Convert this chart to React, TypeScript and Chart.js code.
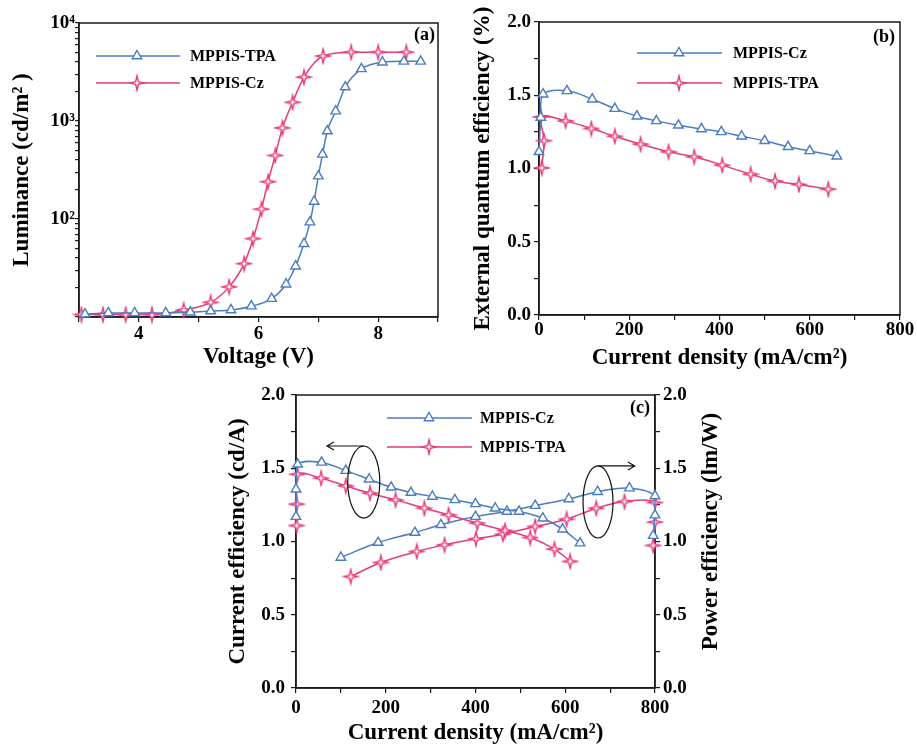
import React, { useEffect, useRef } from 'react';
import { Chart, registerables } from 'chart.js';

Chart.register(...registerables);

const BLUE = '#4a7cc3';
const PINK = '#e8397a';
const AXIS = '#1a1a1a';
const FONT = "'Liberation Serif', 'Times New Roman', Times, serif";

// ---------- Panel (a): Luminance vs Voltage ----------
const aVoltTPA = [3.10, 3.49, 3.93, 4.45, 4.86, 5.20, 5.54, 5.88, 6.22, 6.46, 6.62, 6.76, 6.86, 6.93, 7.00, 7.07, 7.15, 7.29, 7.45, 7.72, 8.07, 8.43, 8.71];
const aLumTPA = [10.7, 11, 11, 11, 11.2, 11.5, 11.8, 12.9, 15.4, 21.6, 33, 56, 93, 151, 274, 457, 790, 1260, 2220, 3400, 3980, 4060, 4060];
const aVoltCz = [3.04, 3.40, 3.78, 4.22, 4.75, 5.20, 5.51, 5.76, 5.91, 6.05, 6.16, 6.28, 6.40, 6.57, 6.76, 7.08, 7.55, 8.00, 8.47];
const aLumCz = [10.6, 10.6, 10.6, 10.6, 11.8, 14.1, 20.3, 35, 63, 126, 240, 445, 850, 1550, 2800, 4600, 5030, 5030, 5030];
const aVoltTicks = [3, 4, 5, 6, 7, 8, 9];
const aVoltLabels = [4, 6, 8];
const aLumDecades = [10, 100, 1000];
const aLumLabelled = [100, 1000, 10000];

// ---------- Panel (b): EQE vs current density ----------
const bJCz = [0, 4, 9, 62, 118, 168, 217, 260, 309, 360, 404, 449, 500, 552, 600, 660];
const bEqeCz = [1.114, 1.348, 1.507, 1.53, 1.473, 1.409, 1.357, 1.325, 1.295, 1.27, 1.25, 1.22, 1.189, 1.148, 1.12, 1.084];
const bJTPA = [6, 11, 4, 59, 116, 168, 225, 287, 344, 406, 469, 523, 576, 641];
const bEqeTPA = [1.004, 1.19, 1.352, 1.325, 1.273, 1.22, 1.166, 1.114, 1.08, 1.023, 0.961, 0.914, 0.891, 0.859];

// ---------- Panel (c): CE & PE vs current density ----------
const cJCeCz = [0, 0, 3.7, 57, 111, 163, 212, 256, 304, 354, 400, 444, 497, 550, 594, 633];
const cCeCz = [1.17, 1.357, 1.527, 1.54, 1.484, 1.425, 1.37, 1.334, 1.307, 1.284, 1.257, 1.227, 1.205, 1.159, 1.084, 0.989];
const cJPeCz = [100, 183, 265, 323, 400, 470, 533, 608, 672, 743, 800, 800, 796];
const cPeCz = [0.891, 0.993, 1.061, 1.114, 1.17, 1.205, 1.245, 1.29, 1.34, 1.364, 1.311, 1.18, 1.04];
const cJCeTPA = [1.5, 1.5, 3, 56, 111, 165, 222, 286, 340, 404, 466, 522, 576, 611];
const cCeTPA = [1.109, 1.255, 1.459, 1.432, 1.38, 1.33, 1.284, 1.227, 1.182, 1.125, 1.075, 1.027, 0.948, 0.864];
const cJPeTPA = [122, 189, 269, 331, 401, 461, 533, 603, 669, 732, 800, 800, 796];
const cPeTPA = [0.761, 0.857, 0.932, 0.977, 1.018, 1.05, 1.102, 1.152, 1.227, 1.273, 1.266, 1.132, 0.973];

// shared tick lists
const jTicks = [0, 100, 200, 300, 400, 500, 600, 700, 800];
const jLabels = [0, 200, 400, 600, 800];
const effTicks = [0, 0.25, 0.5, 0.75, 1, 1.25, 1.5, 1.75, 2];
const effLabels = [0, 0.5, 1, 1.5, 2];

// annotation ellipses (data units) for panel (c)
const cEllipseX = [151, 673];
const cEllipseY = [1.406, 1.27];
const cEllipseRx = [35.7, 33.4];
const cEllipseRy = [0.246, 0.246];
const cArrowTo = [69, 755];

function drawStar(ctx: CanvasRenderingContext2D, cx: number, cy: number, r: number, color: string) {
  const inner = r * 0.28;
  ctx.beginPath();
  for (let i = 0; i < 8; i++) {
    const ang = -Math.PI / 2 + (i * Math.PI) / 4;
    const rad = i % 2 === 0 ? r : inner;
    const px = cx + rad * Math.cos(ang);
    const py = cy + rad * Math.sin(ang);
    if (i === 0) ctx.moveTo(px, py);
    else ctx.lineTo(px, py);
  }
  ctx.closePath();
  ctx.fillStyle = '#fff';
  ctx.fill();
  ctx.lineWidth = 1.4;
  ctx.strokeStyle = color;
  ctx.stroke();
}

function drawTri(ctx: CanvasRenderingContext2D, cx: number, cy: number, r: number, color: string) {
  ctx.beginPath();
  for (let i = 0; i < 3; i++) {
    const a = (i * 2 * Math.PI) / 3;
    const px = cx + Math.sin(a) * r;
    const py = cy - Math.cos(a) * r;
    if (i === 0) ctx.moveTo(px, py);
    else ctx.lineTo(px, py);
  }
  ctx.closePath();
  ctx.fillStyle = '#fff';
  ctx.fill();
  ctx.lineWidth = 1.4;
  ctx.strokeStyle = color;
  ctx.stroke();
}

const starCache: Record<string, HTMLCanvasElement> = {};
function starImage(color: string, r = 7): HTMLCanvasElement {
  const key = color + r;
  if (starCache[key]) return starCache[key];
  const s = Math.ceil(2 * r + 4);
  const c = document.createElement('canvas');
  c.width = s;
  c.height = s;
  const ctx = c.getContext('2d')!;
  drawStar(ctx, s / 2, s / 2, r, color);
  starCache[key] = c;
  return c;
}

const pts = (xs: number[], ys: number[]) => xs.map((x, i) => ({ x, y: ys[i] }));

function series(label: string, data: any[], color: string, marker: 'tri' | 'star', extra: any = {}) {
  return {
    label,
    data,
    showLine: true,
    borderColor: color,
    borderWidth: 1.5,
    backgroundColor: '#fff',
    pointStyle: marker === 'tri' ? 'triangle' : starImage(color),
    pointRadius: marker === 'tri' ? 5.5 : 7,
    pointBorderWidth: 1.4,
    pointBackgroundColor: '#fff',
    pointBorderColor: color,
    clip: false,
    tension: 0.35,
    ...extra,
  };
}

const tickFont = { family: FONT, size: 19, weight: 'bold' as const, lineHeight: 1 };
const titleFont = { family: FONT, size: 23, weight: 'bold' as const, lineHeight: 1 };

const has = (arr: number[], v: number) => arr.some((a) => Math.abs(a - v) < 1e-6);

function linAxis(o: {
  min: number; max: number; ticks: number[]; labels: number[]; fmt: (v: number) => string;
  title?: string; titlePad?: number; size: number; horizontal: boolean; pad: number; position?: string;
}) {
  return {
    type: 'linear',
    position: o.position,
    min: o.min,
    max: o.max,
    afterBuildTicks: (s: any) => {
      s.ticks = o.ticks.map((v) => ({ value: v }));
    },
    afterFit: (s: any) => {
      if (o.horizontal) s.height = o.size;
      else s.width = o.size;
    },
    ticks: {
      autoSkip: false,
      maxRotation: 0,
      minRotation: 0,
      padding: o.pad,
      color: '#000',
      font: tickFont,
      callback: (v: number) => (has(o.labels, v) ? o.fmt(v) : ''),
    },
    grid: { drawOnChartArea: false, drawTicks: true, tickLength: 5, color: AXIS, lineWidth: 1.2 },
    border: { display: true, color: AXIS, width: 1.5 },
    title: o.title
      ? {
          display: true,
          text: o.title,
          color: '#000',
          font: titleFont,
          padding: o.horizontal ? { top: 0, bottom: o.titlePad } : { top: o.titlePad, bottom: 0 },
        }
      : { display: false },
  };
}

const framePlugin = {
  id: 'frame',
  beforeDatasetsDraw(chart: any) {
    const { ctx, chartArea } = chart;
    const { left, top, right, bottom } = chartArea;
    ctx.save();
    ctx.strokeStyle = AXIS;
    ctx.lineWidth = 1.5;
    ctx.strokeRect(left, top, right - left, bottom - top);
    ctx.restore();
  },
};

type KeyItem = { text: string; color: string; marker: 'tri' | 'star' };
function makeKey(
  items: KeyItem[],
  geo: { x1: number; x2: number; xm: number; xt: number; y0: number; dy: number },
  tag: { text: string; dx: number; dy: number }
) {
  return {
    id: 'key',
    afterDatasetsDraw(chart: any) {
      const { ctx, chartArea } = chart;
      ctx.save();
      items.forEach((it, i) => {
        const y = chartArea.top + geo.y0 + i * geo.dy;
        ctx.strokeStyle = it.color;
        ctx.lineWidth = 1.5;
        ctx.beginPath();
        ctx.moveTo(chartArea.left + geo.x1, y);
        ctx.lineTo(chartArea.left + geo.x2, y);
        ctx.stroke();
        if (it.marker === 'tri') drawTri(ctx, chartArea.left + geo.xm, y, 5.5, it.color);
        else drawStar(ctx, chartArea.left + geo.xm, y, 7, it.color);
        ctx.fillStyle = '#000';
        ctx.font = `bold 16px ${FONT}`;
        ctx.textBaseline = 'middle';
        ctx.textAlign = 'left';
        ctx.fillText(it.text, chartArea.left + geo.xt, y + 1);
      });
      ctx.fillStyle = '#000';
      ctx.font = `bold 18px ${FONT}`;
      ctx.textAlign = 'right';
      ctx.textBaseline = 'middle';
      ctx.fillText(tag.text, chartArea.right + tag.dx, chartArea.top + tag.dy);
      ctx.restore();
    },
  };
}

const annotPlugin = {
  id: 'annot',
  afterDatasetsDraw(chart: any) {
    const { ctx } = chart;
    const xs = chart.scales.x;
    const ys = chart.scales.y;
    ctx.save();
    ctx.strokeStyle = '#111';
    ctx.lineWidth = 1.2;
    cEllipseX.forEach((ex, i) => {
      const cx = xs.getPixelForValue(ex);
      const cy = ys.getPixelForValue(cEllipseY[i]);
      const rx = Math.abs(xs.getPixelForValue(ex + cEllipseRx[i]) - cx);
      const ry = Math.abs(ys.getPixelForValue(cEllipseY[i] + cEllipseRy[i]) - cy);
      ctx.beginPath();
      ctx.ellipse(cx, cy, rx, ry, 0, 0, Math.PI * 2);
      ctx.stroke();
      const ay = cy - ry;
      const tx = xs.getPixelForValue(cArrowTo[i]);
      ctx.beginPath();
      ctx.moveTo(cx, ay);
      ctx.lineTo(tx, ay);
      const dir = tx < cx ? 1 : -1;
      ctx.moveTo(tx + dir * 7, ay - 4);
      ctx.lineTo(tx, ay);
      ctx.lineTo(tx + dir * 7, ay + 4);
      ctx.stroke();
    });
    ctx.restore();
  },
};

const rightTitlePlugin = {
  id: 'rtitle',
  afterDraw(chart: any) {
    const { ctx, chartArea, width } = chart;
    ctx.save();
    ctx.translate(width - 29, (chartArea.top + chartArea.bottom) / 2 - 10);
    ctx.rotate(-Math.PI / 2);
    ctx.fillStyle = '#000';
    ctx.font = `bold 23px ${FONT}`;
    ctx.textAlign = 'center';
    ctx.textBaseline = 'middle';
    ctx.fillText('Power efficiency (lm/W)', 0, 0);
    ctx.restore();
  },
};

const SUP: Record<string, string> = { '0': '\u2070', '1': '\u00B9', '2': '\u00B2', '3': '\u00B3', '4': '\u2074' };

function buildA(): any {
  const logTicks: number[] = [];
  aLumDecades.forEach((d) => {
    for (let k = 1; k <= 9; k++) logTicks.push(d * k);
  });
  logTicks.push(10000);
  return {
    type: 'scatter',
    data: {
      datasets: [
        series('MPPIS-TPA', pts(aVoltTPA, aLumTPA), BLUE, 'tri', { tension: 0, cubicInterpolationMode: 'monotone' }),
        series('MPPIS-Cz', pts(aVoltCz, aLumCz), PINK, 'star', { tension: 0, cubicInterpolationMode: 'monotone' }),
      ],
    },
    options: {
      responsive: false,
      animation: false,
      devicePixelRatio: 1,
      layout: { padding: { left: 0, top: 23, right: 12, bottom: 0 } },
      plugins: { legend: { display: false }, tooltip: { enabled: false } },
      scales: {
        x: linAxis({
          min: 3, max: 9, ticks: aVoltTicks, labels: aVoltLabels, fmt: (v) => String(v),
          title: 'Voltage (V)', titlePad: 6.5, size: 58, horizontal: true, pad: 2.5,
        }),
        y: {
          type: 'logarithmic',
          min: 10,
          max: 10000,
          afterBuildTicks: (s: any) => {
            s.ticks = logTicks.map((v) => ({ value: v }));
          },
          afterFit: (s: any) => {
            s.width = 79;
          },
          ticks: {
            autoSkip: false,
            padding: 0,
            color: '#000',
            font: tickFont,
            callback: (v: number) => {
              if (!has(aLumLabelled, v)) return '';
              const e = Math.round(Math.log10(v));
              return '10' + SUP[String(e)];
            },
          },
          grid: { drawOnChartArea: false, drawTicks: true, tickLength: 4, color: AXIS, lineWidth: 1.2 },
          border: { display: true, color: AXIS, width: 1.5 },
          title: {
            display: true,
            text: 'Luminance (cd/m\u00B2 )',
            color: '#000',
            font: titleFont,
            padding: { top: 10.5, bottom: 0 },
          },
        },
      },
    },
    plugins: [
      framePlugin,
      makeKey(
        [
          { text: 'MPPIS-TPA', color: BLUE, marker: 'tri' },
          { text: 'MPPIS-Cz', color: PINK, marker: 'star' },
        ],
        { x1: 17, x2: 101, xm: 58, xt: 111, y0: 33, dy: 27 },
        { text: '(a)', dx: -3, dy: 12 }
      ),
    ],
  };
}

function buildB(): any {
  return {
    type: 'scatter',
    data: {
      datasets: [
        series('MPPIS-Cz', pts(bJCz, bEqeCz), BLUE, 'tri'),
        series('MPPIS-TPA', pts(bJTPA, bEqeTPA), PINK, 'star'),
      ],
    },
    options: {
      responsive: false,
      animation: false,
      devicePixelRatio: 1,
      layout: { padding: { left: 0, top: 22, right: 17, bottom: 0 } },
      plugins: { legend: { display: false }, tooltip: { enabled: false } },
      scales: {
        x: linAxis({
          min: 0, max: 800, ticks: jTicks, labels: jLabels, fmt: (v) => String(v),
          title: 'Current density (mA/cm\u00B2)', titlePad: 5.5, size: 60, horizontal: true, pad: 0.5,
        }),
        y: linAxis({
          min: 0, max: 2, ticks: effTicks, labels: effLabels, fmt: (v) => v.toFixed(1),
          title: 'External quantum efficiency (%)', titlePad: 21.5, size: 89, horizontal: false, pad: 3,
        }),
      },
    },
    plugins: [
      framePlugin,
      makeKey(
        [
          { text: 'MPPIS-Cz', color: BLUE, marker: 'tri' },
          { text: 'MPPIS-TPA', color: PINK, marker: 'star' },
        ],
        { x1: 98, x2: 183, xm: 140, xt: 194, y0: 31, dy: 30 },
        { text: '(b)', dx: -5, dy: 15 }
      ),
    ],
  };
}

function buildC(): any {
  return {
    type: 'scatter',
    data: {
      datasets: [
        series('MPPIS-Cz CE', pts(cJCeCz, cCeCz), BLUE, 'tri', { yAxisID: 'y' }),
        series('MPPIS-Cz PE', pts(cJPeCz, cPeCz), BLUE, 'tri', { yAxisID: 'y2' }),
        series('MPPIS-TPA CE', pts(cJCeTPA, cCeTPA), PINK, 'star', { yAxisID: 'y' }),
        series('MPPIS-TPA PE', pts(cJPeTPA, cPeTPA), PINK, 'star', { yAxisID: 'y2' }),
      ],
    },
    options: {
      responsive: false,
      animation: false,
      devicePixelRatio: 1,
      layout: { padding: { left: 0, top: 17, right: 0, bottom: 0 } },
      plugins: { legend: { display: false }, tooltip: { enabled: false } },
      scales: {
        x: linAxis({
          min: 0, max: 800, ticks: jTicks, labels: jLabels, fmt: (v) => String(v),
          title: 'Current density (mA/cm\u00B2)', titlePad: 0.5, size: 57, horizontal: true, pad: 5.5,
        }),
        y: linAxis({
          min: 0, max: 2, ticks: effTicks, labels: effLabels, fmt: (v) => v.toFixed(1),
          title: 'Current efficiency (cd/A)', titlePad: 6.5, size: 76, horizontal: false, pad: 6, position: 'left',
        }),
        y2: linAxis({
          min: 0, max: 2, ticks: effTicks, labels: effLabels, fmt: (v) => v.toFixed(1),
          size: 85, horizontal: false, pad: 3, position: 'right',
        }),
      },
    },
    plugins: [
      framePlugin,
      annotPlugin,
      rightTitlePlugin,
      makeKey(
        [
          { text: 'MPPIS-Cz', color: BLUE, marker: 'tri' },
          { text: 'MPPIS-TPA', color: PINK, marker: 'star' },
        ],
        { x1: 91, x2: 176, xm: 133, xt: 184, y0: 23, dy: 29 },
        { text: '(c)', dx: -5, dy: 13 }
      ),
    ],
  };
}

function Panel(props: { left: number; top: number; width: number; height: number; build: () => any }) {
  const ref = useRef<HTMLCanvasElement>(null);
  useEffect(() => {
    const chart = new Chart(ref.current!, props.build());
    return () => chart.destroy();
  }, []);
  return (
    <canvas
      ref={ref}
      width={props.width}
      height={props.height}
      style={{ position: 'absolute', left: props.left, top: props.top, width: props.width, height: props.height, display: 'block' }}
    />
  );
}

export default function App() {
  return (
    <div style={{ position: 'fixed', left: 0, top: 0, width: 917, height: 745, background: '#fff', overflow: 'hidden' }}>
      <Panel left={0} top={0} width={450} height={375} build={buildA} />
      <Panel left={450} top={0} width={467} height={375} build={buildB} />
      <Panel left={220} top={378} width={520} height={367} build={buildC} />
    </div>
  );
}
